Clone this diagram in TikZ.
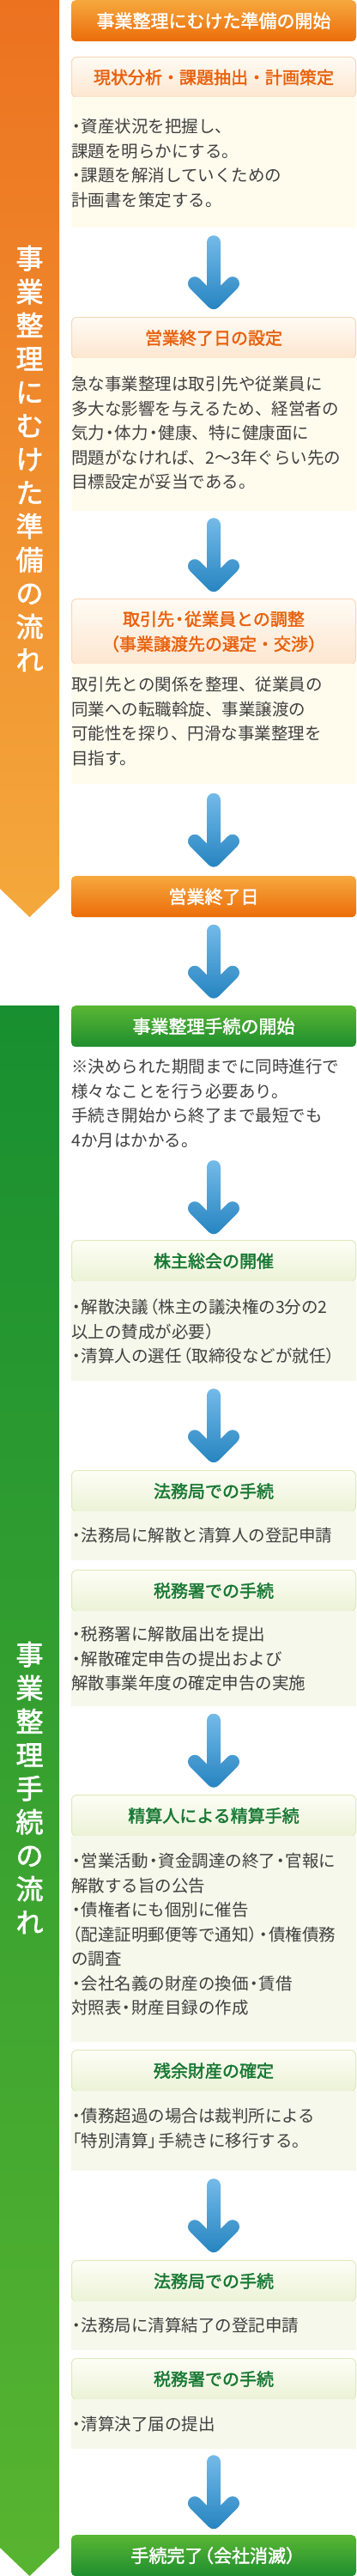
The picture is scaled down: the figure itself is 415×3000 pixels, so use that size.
\documentclass[tikz,border=0pt]{standalone}
\usepackage{fontspec}
\setmainfont{Noto Sans CJK JP}[AutoFakeBold=2]
\usetikzlibrary{calc}
\definecolor{obarT}{RGB}{246,168,62}
\definecolor{obarB}{RGB}{236,108,10}
\definecolor{gbarT}{RGB}{90,182,52}
\definecolor{gbarB}{RGB}{30,142,46}
\definecolor{osideT}{RGB}{236,114,32}
\definecolor{osideB}{RGB}{244,168,60}
\definecolor{gsideT}{RGB}{24,143,48}
\definecolor{gsideB}{RGB}{88,180,48}
\definecolor{osubT}{RGB}{255,251,244}
\definecolor{osubB}{RGB}{253,230,208}
\definecolor{osubD}{RGB}{249,216,186}
\definecolor{otext}{RGB}{232,98,14}
\definecolor{obodyc}{RGB}{255,252,238}
\definecolor{gsubT}{RGB}{253,254,246}
\definecolor{gsubB}{RGB}{236,242,214}
\definecolor{gsubD}{RGB}{222,234,190}
\definecolor{gtext}{RGB}{24,120,52}
\definecolor{gbodyc}{RGB}{245,248,234}
\definecolor{bodytxt}{RGB}{64,64,64}
\definecolor{arrT}{RGB}{116,186,232}
\definecolor{arrB}{RGB}{38,132,192}
\newcommand\ndot{\makebox[0.6em][c]{・}}
\newcommand\nlp{\makebox[0.6em][r]{（}}
\newcommand\nrp{\makebox[0.6em][l]{）}}
\newcommand\nlq{\makebox[0.6em][r]{「}}
\newcommand\nrq{\makebox[0.6em][l]{」}}
\newcommand\fstrut{\rule{0pt}{20pt}}
\tikzset{
  xbar/.style={rounded corners=5pt, minimum width=332pt, inner sep=0pt, anchor=north, text=white, font=\fontsize{21}{25}\selectfont\bfseries, align=center},
  xobar/.style={xbar, top color=obarT, bottom color=obarB},
  xgbar/.style={xbar, top color=gbarT, bottom color=gbarB},
  xsub/.style={rounded corners=6pt, minimum width=331pt, inner sep=0pt, anchor=north, line width=1pt, font=\fontsize{20}{29}\selectfont\bfseries, align=center},
  xosub/.style={xsub, top color=osubT, bottom color=osubB, draw=osubD, text=otext},
  xgsub/.style={xsub, top color=gsubT, bottom color=gsubB, draw=gsubD, text=gtext},
  xbody/.style={minimum width=332pt, inner sep=0pt, anchor=north},
  xobody/.style={xbody, fill=obodyc},
  xgbody/.style={xbody, fill=gbodyc},
  xtxt/.style={anchor=north west, inner sep=0pt, align=left, text=bodytxt, font=\fontsize{19.5}{28.5}\selectfont},
  xside/.style={inner sep=0pt, align=center, text=white, font=\fontsize{32}{39}\selectfont\bfseries},
  dnarrow/.pic={
    \shade[top color=arrT, bottom color=arrB]
      (-8,70) arc[start angle=180, end angle=0, radius=8]
      -- (8,19.314)
      -- (16.343,27.657)
      arc[start angle=135, end angle=-45, radius=8]
      -- (5.657,-5.657)
      arc[start angle=-45, end angle=-135, radius=8]
      -- (-27.657,16.343)
      arc[start angle=-135, end angle=-315, radius=8]
      -- (-8,19.314)
      -- cycle;
  }
}
\begin{document}
\begin{tikzpicture}[x=1pt,y=1pt]
\fill[white] (0,0) rectangle (415,-3000);
\useasboundingbox (0,0) rectangle (415,-3000);
% side bars
\shade[top color=osideT, bottom color=osideB] (0,0) -- (69,0) -- (69,-1035) -- (34.5,-1068) -- (0,-1035) -- cycle;
\shade[top color=gsideT, bottom color=gsideB] (0,-1171) -- (69,-1171) -- (69,-2967) -- (34.5,-3000) -- (0,-2967) -- cycle;
\node[xside] (v1) at (34.5,-534) {事\\業\\整\\理\\に\\む\\け\\た\\準\\備\\の\\流\\れ};
\node[xside] (v2) at (34.5,-2082) {事\\業\\整\\理\\手\\続\\の\\流\\れ};
% section 1
\node[xobar, minimum height=48pt] (h1) at (249,0) {事業整理にむけた準備の開始};
\node[xosub, minimum height=47pt] (s1) at (249,-66) {現状分析・課題抽出・計画策定};
\node[xobody, minimum height=152pt] (b1) at (249,-113) {};
\node[xtxt] (t1) at (83,-134.4) {\fstrut\ndot 資産状況を把握し、\\課題を明らかにする。\\\ndot 課題を解消していくための\\計画書を策定する。};
\node[xosub, minimum height=48pt] (s2) at (249,-369) {営業終了日の設定};
\node[xobody, minimum height=178pt] (b2) at (249,-417) {};
\node[xtxt] (t2) at (83,-434.4) {\fstrut 急な事業整理は取引先や従業員に\\多大な影響を与えるため、経営者の\\気力\ndot 体力\ndot 健康、特に健康面に\\問題がなければ、2～3年ぐらい先の\\目標設定が妥当である。};
\node[xosub, minimum height=76pt] (s3) at (249,-697) {取引先\ndot 従業員との調整\\\nlp 事業譲渡先の選定・交渉\nrp};
\node[xobody, minimum height=140pt] (b3) at (249,-773) {};
\node[xtxt] (t3) at (83,-784.4) {\fstrut 取引先との関係を整理、従業員の\\同業への転職斡旋、事業譲渡の\\可能性を探り、円滑な事業整理を\\目指す。};
\node[xobar, minimum height=48pt] (h2) at (249,-1020) {営業終了日};
% section 2
\node[xgbar, minimum height=48pt] (h3) at (249,-1171) {事業整理手続の開始};
\node[xbody, minimum height=125pt] (b0) at (249,-1219) {};
\node[xtxt] (t0) at (83,-1229.4) {\fstrut ※決められた期間までに同時進行で\\様々なことを行う必要あり。\\手続き開始から終了まで最短でも\\4か月はかかる。};
\node[xgsub, minimum height=48pt] (s4) at (249,-1444) {株主総会の開催};
\node[xgbody, minimum height=116pt] (b4) at (249,-1492) {};
\node[xtxt] (t4) at (83,-1509.4) {\fstrut\ndot 解散決議\nlp 株主の議決権の3分の2\\以上の賛成が必要\nrp\\\ndot 清算人の選任\nlp 取締役などが就任\nrp};
\node[xgsub, minimum height=48pt] (s5) at (249,-1712) {法務局での手続};
\node[xgbody, minimum height=57pt] (b5) at (249,-1760) {};
\node[xtxt] (t5) at (83,-1775.4) {\fstrut\ndot 法務局に解散と清算人の登記申請};
\node[xgsub, minimum height=48pt] (s6) at (249,-1828) {税務署での手続};
\node[xgbody, minimum height=111pt] (b6) at (249,-1876) {};
\node[xtxt] (t6) at (83,-1890.4) {\fstrut\ndot 税務署に解散届出を提出\\\ndot 解散確定申告の提出および\\解散事業年度の確定申告の実施};
\node[xgsub, minimum height=48pt] (s7) at (249,-2090) {精算人による精算手続};
\node[xgbody, minimum height=240pt] (b7) at (249,-2138) {};
\node[xtxt] (t7) at (83,-2154.4) {\fstrut\ndot 営業活動\ndot 資金調達の終了\ndot 官報に\\解散する旨の公告\\\ndot 債権者にも個別に催告\\\nlp 配達証明郵便等で通知\nrp\ndot 債権債務\\の調査\\\ndot 会社名義の財産の換価\ndot 賃借\\対照表\ndot 財産目録の作成};
\node[xgsub, minimum height=48pt] (s8) at (249,-2387) {残余財産の確定};
\node[xgbody, minimum height=93pt] (b8) at (249,-2435) {};
\node[xtxt] (t8) at (83,-2451.4) {\fstrut\ndot 債務超過の場合は裁判所による\\\nlq 特別清算\nrq 手続きに移行する。};
\node[xgsub, minimum height=48pt] (s9) at (249,-2632) {法務局での手続};
\node[xgbody, minimum height=57pt] (b9) at (249,-2680) {};
\node[xtxt] (t9) at (83,-2695.4) {\fstrut\ndot 法務局に清算結了の登記申請};
\node[xgsub, minimum height=48pt] (s10) at (249,-2746) {税務署での手続};
\node[xgbody, minimum height=58pt] (b10) at (249,-2794) {};
\node[xtxt] (t10) at (83,-2810.4) {\fstrut\ndot 清算決了届の提出};
\node[xgbar, minimum height=48pt] (h4) at (249,-2952) {手続完了\nlp 会社消滅\nrp};
% arrows
\pic at ($(b1.south)!0.5!(s2.north)+(0,-35)$) {dnarrow};
\pic at ($(b2.south)!0.5!(s3.north)+(0,-35)$) {dnarrow};
\pic at ($(b3.south)!0.5!(h2.north)+(0,-35)$) {dnarrow};
\pic at ($(h2.south)!0.5!(h3.north)+(0,-35)$) {dnarrow};
\pic at ($(b0.south)!0.5!(s4.north)+(0,-35)$) {dnarrow};
\pic at ($(b4.south)!0.5!(s5.north)+(0,-35)$) {dnarrow};
\pic at ($(b6.south)!0.5!(s7.north)+(0,-35)$) {dnarrow};
\pic at ($(b8.south)!0.5!(s9.north)+(0,-35)$) {dnarrow};
\pic at ($(b10.south)!0.5!(h4.north)+(0,-35)$) {dnarrow};
\end{tikzpicture}
\end{document}
